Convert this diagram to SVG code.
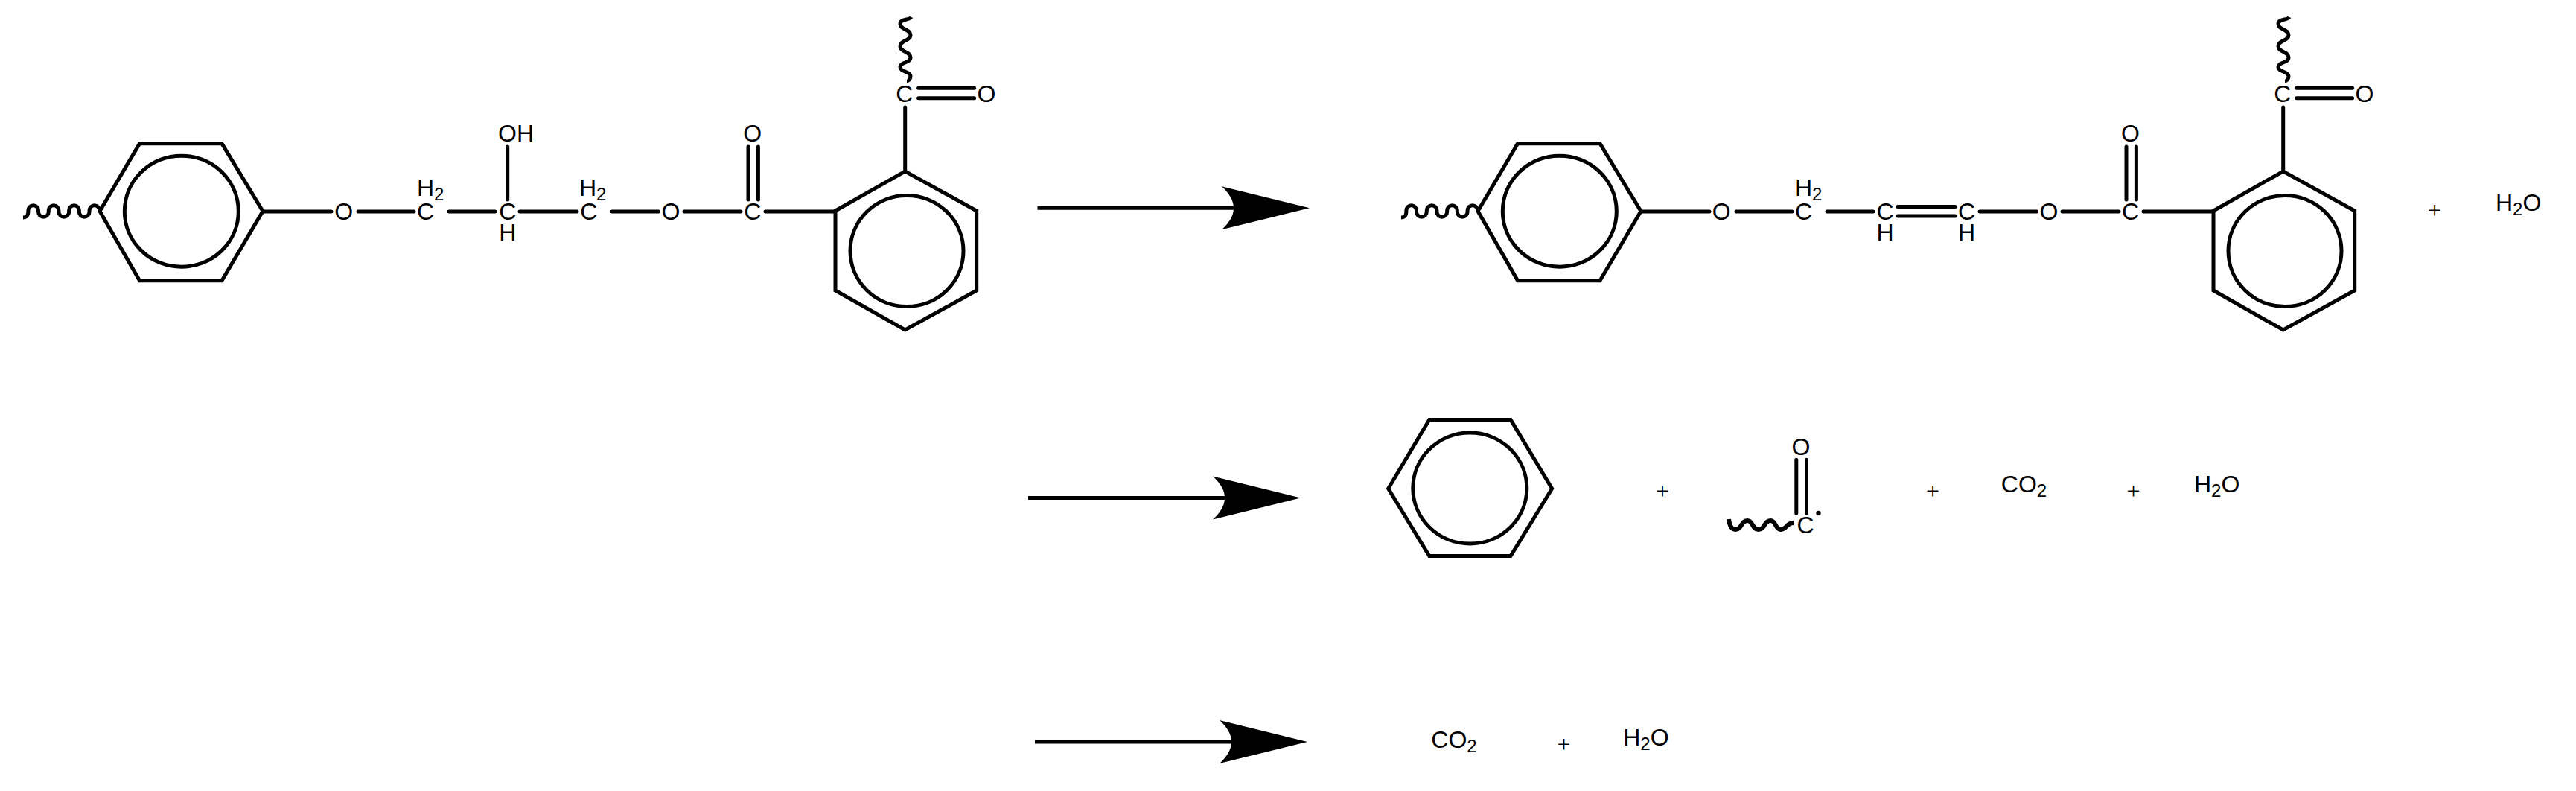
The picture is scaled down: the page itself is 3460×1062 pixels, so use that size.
<svg xmlns="http://www.w3.org/2000/svg" width="3460" height="1062" viewBox="0 0 3460 1062">
<style>
text{font-family:"Liberation Sans",Arial,sans-serif;font-size:32px;fill:#000}
.c{text-anchor:middle}
.p{font-family:"Liberation Serif","Times New Roman",serif;font-size:32px;text-anchor:middle}
.s{font-size:24px}
.r,.w,.b{fill:none;stroke:#000}
.r{stroke-width:5;stroke-linejoin:miter}
.w{stroke-width:5;stroke-linecap:butt}
.b{stroke-width:5;stroke-linecap:round}
.a{fill:none;stroke:#000;stroke-width:5;marker-end:url(#head)}
</style>
<defs>
<marker id="head" markerUnits="userSpaceOnUse" viewBox="0 0 118 58" markerWidth="118" markerHeight="58" refX="16" refY="29" orient="auto" overflow="visible"><path d="M0 0L118 29L0 58Q32 29 0 0Z" fill="#000"/></marker>
<path id="wave" d="M0 8.500C3 8.500 6.850 7 6.850 1V-1A6.850 6.850 0 0 1 20.550 -1V1A6.850 6.850 0 0 0 34.250 1V-1A6.850 6.850 0 0 1 47.950 -1V1A6.850 6.850 0 0 0 61.650 1V-1A6.850 6.850 0 0 1 75.350 -1V1A6.850 6.850 0 0 0 89.050 1V-1A6.850 6.850 0 0 1 102.750 -1"/>
<path id="vwave" d="M8 0C6 4 -7 2 -7 9C-7 17 7 16 7 24C7 32 -7 31 -7 39C-7 47 7 46 7 54C7 62 -7 60 -7 67C-7 74 7 72 7 80C7 84 3 86 2 86"/>
</defs>

<g id="connectors">
<line class="a" x1="1393.500" y1="279.300" x2="1657" y2="279.300"/>
<line class="a" x1="1381" y1="668.400" x2="1645" y2="668.400"/>
<line class="a" x1="1390" y1="996" x2="1654" y2="996"/>
<g id="bonds-reactant">
<line class="b" x1="353" y1="284" x2="445" y2="284"/>
<line class="b" x1="481" y1="284" x2="556" y2="284"/>
<line class="b" x1="603" y1="284" x2="665" y2="284"/>
<line class="b" x1="681.700" y1="197" x2="681.700" y2="268"/>
<line class="b" x1="698" y1="284" x2="775" y2="284"/>
<line class="b" x1="822" y1="284" x2="884.500" y2="284"/>
<line class="b" x1="919" y1="284" x2="995" y2="284"/>
<line class="b" x1="1028" y1="284" x2="1122" y2="284"/>
<line class="b" x1="1005" y1="197" x2="1005" y2="268"/>
<line class="b" x1="1018.400" y1="197" x2="1018.400" y2="268"/>
<line class="b" x1="1215.700" y1="144" x2="1215.700" y2="230"/>
<line class="b" x1="1233.600" y1="118.300" x2="1308.600" y2="118.300"/>
<line class="b" x1="1233.600" y1="131.700" x2="1308.600" y2="131.700"/>
</g>
<g id="bonds-product">
<line class="b" x1="2204" y1="284" x2="2296" y2="284"/>
<line class="b" x1="2332" y1="284" x2="2407" y2="284"/>
<line class="b" x1="2454" y1="284" x2="2516" y2="284"/>
<line class="b" x1="2549" y1="277.500" x2="2626" y2="277.500"/>
<line class="b" x1="2549" y1="290" x2="2626" y2="290"/>
<line class="b" x1="2659" y1="284" x2="2735.500" y2="284"/>
<line class="b" x1="2770" y1="284" x2="2846" y2="284"/>
<line class="b" x1="2879" y1="284" x2="2973" y2="284"/>
<line class="b" x1="2856" y1="197" x2="2856" y2="268"/>
<line class="b" x1="2869.400" y1="197" x2="2869.400" y2="268"/>
<line class="b" x1="3066.700" y1="144" x2="3066.700" y2="230"/>
<line class="b" x1="3084.600" y1="118.300" x2="3159.600" y2="118.300"/>
<line class="b" x1="3084.600" y1="131.700" x2="3159.600" y2="131.700"/>
</g>
<g id="bonds-radical">
<line class="b" x1="2412.800" y1="617.300" x2="2412.800" y2="689"/>
<line class="b" x1="2426.500" y1="617.300" x2="2426.500" y2="689"/>
</g>
<use class="w" href="#wave" x="31" y="283.500"/>
<use class="w" href="#vwave" x="1216" y="23"/>
<use class="w" href="#wave" x="1882" y="283.500"/>
<use class="w" href="#vwave" x="3067" y="23"/>
<path class="w" style="stroke-width:6" d="M2322 697C2323 705 2325 711 2331 711C2340 711 2338 699 2347 699C2355 699 2353 711 2362 711C2371 711 2369 699 2378 699C2386 699 2384 711 2392 711C2400 711 2399 702 2409 702"/>
</g>

<g id="ring-1"><polygon class="r" points="134,283.500 187.500,192.700 298,192.700 353,283.500 298,376.700 187.500,376.700"/><ellipse class="r" cx="243.800" cy="283.700" rx="76.500" ry="74.500"/></g>
<g id="ring-2"><polygon class="r" points="1122,283 1215.700,230 1311.700,283 1311.700,390 1215.700,443 1122,390"/><ellipse class="r" cx="1218" cy="337" rx="76" ry="74.500"/></g>
<g id="ring-3"><polygon class="r" points="1985,283.500 2038.500,192.700 2149,192.700 2204,283.500 2149,376.700 2038.500,376.700"/><ellipse class="r" cx="2094.800" cy="283.700" rx="76.500" ry="74.500"/></g>
<g id="ring-4"><polygon class="r" points="2973,283 3066.700,230 3162.700,283 3162.700,390 3066.700,443 2973,390"/><ellipse class="r" cx="3069" cy="337" rx="76" ry="74.500"/></g>
<g id="ring-5"><polygon class="r" points="1864.700,656 1919.800,563.400 2029,563.400 2084.600,656 2029,746.600 1919.800,746.600"/><ellipse class="r" cx="1974.300" cy="655.500" rx="76.500" ry="74.500"/></g>

<g id="reactant-atoms">
<text class="c" x="461.600" y="295">O</text>
<text class="c" x="571.500" y="295">C</text>
<text x="560" y="263">H<tspan class="s" dy="6">2</tspan></text>
<text class="c" x="681.700" y="295">C</text>
<text x="669" y="190">OH</text>
<text class="c" x="681.700" y="323">H</text>
<text class="c" x="790.700" y="295">C</text>
<text x="778" y="263">H<tspan class="s" dy="6">2</tspan></text>
<text class="c" x="901" y="295">O</text>
<text class="c" x="1010.800" y="295">C</text>
<text class="c" x="1010.800" y="190">O</text>
<text class="c" x="1214.800" y="137">C</text>
<text class="c" x="1325" y="137">O</text>
</g>
<g id="product-atoms">
<text class="c" x="2312.300" y="295">O</text>
<text class="c" x="2422.500" y="295">C</text>
<text x="2411" y="263">H<tspan class="s" dy="6">2</tspan></text>
<text class="c" x="2532" y="295">C</text>
<text class="c" x="2532" y="323">H</text>
<text class="c" x="2641.500" y="295">C</text>
<text class="c" x="2641.500" y="323">H</text>
<text class="c" x="2752" y="295">O</text>
<text class="c" x="2861.500" y="295">C</text>
<text class="c" x="2861.500" y="190">O</text>
<text class="c" x="3065.800" y="137">C</text>
<text class="c" x="3176" y="137">O</text>
</g>
<g id="radical">
<text class="c" x="2418.900" y="610.700">O</text>
<text class="c" x="2425" y="715.700">C</text>
<circle cx="2442.500" cy="689" r="3.200"/>
</g>
<g id="small-molecules">
<text x="3352" y="283.300">H<tspan class="s" dy="6">2</tspan><tspan dy="-6">O</tspan></text>
<text x="2687.800" y="660.700">CO<tspan class="s" dy="6">2</tspan></text>
<text x="2947" y="660.700">H<tspan class="s" dy="6">2</tspan><tspan dy="-6">O</tspan></text>
<text x="1922.300" y="1003.800">CO<tspan class="s" dy="6">2</tspan></text>
<text x="2180.200" y="1001">H<tspan class="s" dy="6">2</tspan><tspan dy="-6">O</tspan></text>
</g>
<g id="plus-signs">
<text class="p" x="3270" y="292.500">+</text>
<text class="p" x="2233" y="670">+</text>
<text class="p" x="2596" y="670">+</text>
<text class="p" x="2865.400" y="670">+</text>
<text class="p" x="2100.600" y="1010">+</text>
</g>
</svg>
